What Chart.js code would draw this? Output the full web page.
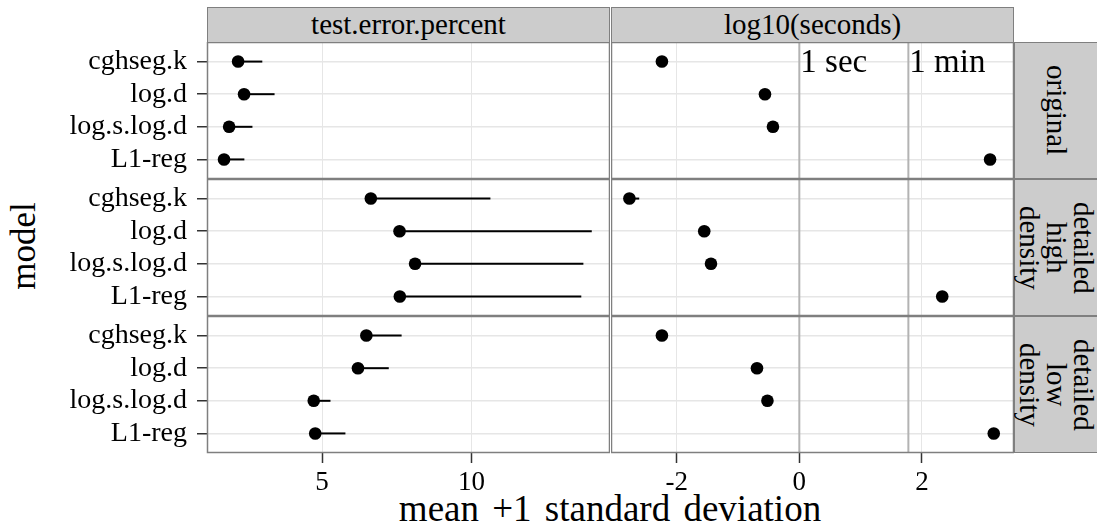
<!DOCTYPE html>
<html>
<head>
<meta charset="utf-8">
<script src="https://cdn.jsdelivr.net/npm/chart.js@4/dist/chart.umd.min.js"></script>
<style>
    body { margin: 0; background: #fff; }
    #wrap { position: relative; width: 1097px; height: 528px; overflow: hidden; font-family: "Liberation Serif", serif; color: #000; }
    #wrap canvas { position: absolute; }
    .strip-top { position: absolute; top: 7px; height: 35px; box-sizing: border-box; background: #cccccc; border: 1px solid #7f7f7f; border-bottom: none; font-family: "Liberation Serif", serif; font-size: 29px; line-height: 32px; text-align: center; }
    .strip-right { position: absolute; left: 1014px; width: 83px; box-sizing: border-box; background: #cccccc; border: 1px solid #7f7f7f; border-right: none; display: flex; align-items: center; justify-content: center; }
    .strip-right div { writing-mode: vertical-rl; text-align: center; font-family: "Liberation Serif", serif; font-size: 29px; line-height: 27px; }
    #y-title { position: absolute; left: -76px; top: 226px; width: 200px; height: 40px; line-height: 40px; text-align: center; font-size: 35px; transform: rotate(-90deg); }
    #x-title { position: absolute; left: 310px; top: 491px; width: 600px; height: 36px; line-height: 36px; text-align: center; font-size: 37px; word-spacing: 4px; }
</style>
</head>
<body>
<div id="wrap">
    <div id="y-title">model</div>
    <div id="x-title">mean +1 standard deviation</div>
</div>
<script>
// ---------- Data ----------

const models = ['cghseg.k', 'log.d', 'log.s.log.d', 'L1-reg'];
const rowLabels = [['original'], ['detailed', 'high', 'density'], ['detailed', 'low', 'density']];
const colLabels = ['test.error.percent', 'log10(seconds)'];

// test.error.percent: mean and mean + 1 sd (one row per data set)
const errorMean = [
    [2.19, 2.39, 1.89, 1.72],
    [6.63, 7.59, 8.11, 7.60],
    [6.48, 6.20, 4.72, 4.77]
];
const errorUpper = [
    [3.00, 3.41, 2.67, 2.40],
    [10.63, 14.02, 13.74, 13.67],
    [7.66, 7.23, 5.28, 5.78]
];

// log10(seconds): mean and mean + 1 sd
const timeMean = [
    [-2.24, -0.56, -0.43, 3.11],
    [-2.77, -1.55, -1.44, 2.33],
    [-2.24, -0.69, -0.52, 3.17]
];
const timeUpper = [
    [-2.20, -0.53, -0.40, 3.14],
    [-2.61, -1.52, -1.41, 2.36],
    [-2.20, -0.66, -0.49, 3.20]
];

const errorTicks = [5, 10];
const timeTicks = [-2, 0, 2];
const errorRange = [1.15, 14.63];
const timeRange = [-3.07, 3.5];

// reference lines on the time panels
const refValues = [0, 1.778];
const refLabels = ['1 sec', '1 min'];

// ---------- Layout ----------

const PANEL_LEFT = [207, 611];
const PANEL_TOP = [42, 179, 316];
const PANEL_W = 403;
const PANEL_H = 137;
const Y_AXIS_W = 207;
const X_AXIS_H = 48;

const GRID_COLOR = '#e6e6e6';
const BORDER_COLOR = '#7f7f7f';

Chart.defaults.font.family = '"Liberation Serif", serif';
Chart.defaults.color = '#000';

// ---------- Strips ----------

function addStrips() {
    const wrap = document.getElementById('wrap');
    colLabels.forEach((label, c) => {
        const div = document.createElement('div');
        div.className = 'strip-top';
        div.style.left = PANEL_LEFT[c] + 'px';
        div.style.width = PANEL_W + 'px';
        div.textContent = label;
        wrap.appendChild(div);
    });
    rowLabels.forEach((lines, r) => {
        const div = document.createElement('div');
        div.className = 'strip-right';
        div.style.top = PANEL_TOP[r] + 'px';
        div.style.height = PANEL_H + 'px';
        const inner = document.createElement('div');
        inner.innerHTML = lines.join('<br>');
        div.appendChild(inner);
        wrap.appendChild(div);
    });
}

// ---------- Panels ----------

function panelPlugin(row, col) {
    return {
        id: 'panelDecor',
        beforeDatasetsDraw(chart) {
            if (col !== 1) return;
            const { ctx, chartArea, scales } = chart;
            ctx.save();
            ctx.strokeStyle = '#b3b3b3';
            ctx.lineWidth = 2;
            refValues.forEach(v => {
                const px = scales.x.getPixelForValue(v);
                ctx.beginPath();
                ctx.moveTo(px, chartArea.top);
                ctx.lineTo(px, chartArea.bottom);
                ctx.stroke();
            });
            ctx.restore();
        },
        afterDatasetsDraw(chart) {
            const { ctx, chartArea, scales } = chart;
            ctx.save();
            if (col === 1 && row === 0) {
                ctx.fillStyle = '#000';
                ctx.font = '33px "Liberation Serif"';
                ctx.textAlign = 'left';
                ctx.textBaseline = 'alphabetic';
                refValues.forEach((v, i) => {
                    ctx.fillText(refLabels[i], scales.x.getPixelForValue(v) + 1, scales.y.getPixelForValue(1) + 10);
                });
            }
            ctx.strokeStyle = BORDER_COLOR;
            ctx.lineWidth = 1.5;
            ctx.strokeRect(chartArea.left + 0.5, chartArea.top + 0.5, chartArea.width - 1, chartArea.height - 1);
            ctx.restore();
        }
    };
}

function createPanel(row, col) {
    const showY = col === 0;
    const showX = row === 2;
    const w = PANEL_W + (showY ? Y_AXIS_W : 0);
    const h = PANEL_H + (showX ? X_AXIS_H : 0);

    const canvas = document.createElement('canvas');
    canvas.width = w;
    canvas.height = h;
    canvas.style.width = w + 'px';
    canvas.style.height = h + 'px';
    canvas.style.left = (PANEL_LEFT[col] - (showY ? Y_AXIS_W : 0)) + 'px';
    canvas.style.top = PANEL_TOP[row] + 'px';
    document.getElementById('wrap').appendChild(canvas);

    const mean = col === 0 ? errorMean[row] : timeMean[row];
    const upper = col === 0 ? errorUpper[row] : timeUpper[row];
    const ticks = col === 0 ? errorTicks : timeTicks;
    const range = col === 0 ? errorRange : timeRange;

    // one segment per model, then the points on top
    const datasets = models.map((m, i) => ({
        type: 'line',
        data: [{ x: mean[i], y: i + 1 }, { x: upper[i], y: i + 1 }],
        borderColor: '#000',
        borderWidth: 2,
        pointRadius: 0,
        fill: false
    }));
    datasets.push({
        type: 'scatter',
        data: models.map((m, i) => ({ x: mean[i], y: i + 1 })),
        backgroundColor: '#000',
        borderWidth: 0,
        pointRadius: 6.3
    });

    return new Chart(canvas, {
        type: 'scatter',
        data: { datasets },
        options: {
            responsive: false,
            animation: false,
            devicePixelRatio: 1,
            events: [],
            layout: { padding: 0, autoPadding: false },
            plugins: { legend: { display: false }, tooltip: { enabled: false } },
            scales: {
                x: {
                    type: 'linear',
                    min: range[0],
                    max: range[1],
                    afterBuildTicks: s => { s.ticks = ticks.map(v => ({ value: v })); },
                    afterFit: s => {
                        s.height = showX ? X_AXIS_H : 0;
                        s.paddingLeft = 0;
                        s.paddingRight = 0;
                    },
                    grid: { color: GRID_COLOR, lineWidth: 1, drawTicks: showX, tickLength: 10, tickColor: '#333', tickWidth: 1.5 },
                    border: { display: false },
                    ticks: { display: showX, font: { size: 27 }, color: '#000', padding: 4, maxRotation: 0, autoSkip: false, callback: v => String(v) }
                },
                y: {
                    type: 'linear',
                    reverse: true,
                    min: 0.4,
                    max: 4.6,
                    afterBuildTicks: s => { s.ticks = models.map((m, i) => ({ value: i + 1 })); },
                    afterFit: s => {
                        s.width = showY ? Y_AXIS_W : 0;
                        s.paddingTop = 0;
                        s.paddingBottom = 0;
                    },
                    grid: { color: GRID_COLOR, lineWidth: 1.5, drawTicks: showY, tickLength: 10, tickColor: '#333', tickWidth: 1.5 },
                    border: { display: false },
                    ticks: { display: showY, font: { size: 28 }, color: '#000', padding: 10, autoSkip: false, callback: v => models[v - 1] }
                }
            }
        },
        plugins: [panelPlugin(row, col)]
    });
}

// ---------- Main ----------

addStrips();
for (let r = 0; r < rowLabels.length; r++) {
    for (let c = 0; c < colLabels.length; c++) {
        createPanel(r, c);
    }
}
</script>
</body>
</html>
